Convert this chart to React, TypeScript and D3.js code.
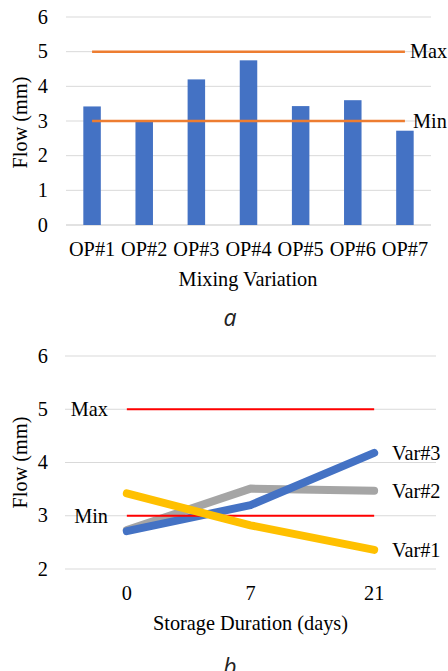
import React from "react"
import * as d3 from "d3"

// chart a: flow per mixing variation
const mixes = ["OP#1", "OP#2", "OP#3", "OP#4", "OP#5", "OP#6", "OP#7"]
const flowByMix = [3.42, 2.98, 4.2, 4.75, 3.43, 3.6, 2.72]
const limitsA = [
  { label: "Max", value: 5 },
  { label: "Min", value: 3 },
]
const ticksA = [0, 1, 2, 3, 4, 5, 6]

// chart b: flow over storage time
const days = ["0", "7", "21"]
const var1 = [3.42, 2.82, 2.36]
const var2 = [2.73, 3.51, 3.47]
const var3 = [2.71, 3.2, 4.18]
const ticksB = [2, 3, 4, 5, 6]

const serif = "'Liberation Serif', 'Times New Roman', serif"
const grid = "#D9D9D9"

const ChartA = () => {
  const x = d3.scaleBand().domain(mixes).range([66, 431])
  const y = d3.scaleLinear().domain([0, 6]).range([225, 17])
  const barW = 17.5
  const cx = (d: string) => (x(d) as number) + x.bandwidth() / 2

  return (
    <g fontFamily={serif} fontSize={20.3} fill="#000">
      {ticksA.map((t) => (
        <g key={t}>
          <line x1={66} x2={431} y1={y(t)} y2={y(t)} stroke={grid} strokeWidth={t === 0 ? 1.5 : 1} />
          <text x={48} y={y(t)} dy="0.33em" textAnchor="end">{t}</text>
        </g>
      ))}
      {mixes.map((m, i) => (
        <rect key={m} x={cx(m) - barW / 2} y={y(flowByMix[i])} width={barW} height={y(0) - y(flowByMix[i])} fill="#4472C4" />
      ))}
      {limitsA.map((l) => (
        <g key={l.label}>
          <line x1={cx(mixes[0])} x2={cx(mixes[mixes.length - 1])} y1={y(l.value)} y2={y(l.value)} stroke="#ED7D31" strokeWidth={2.5} />
          <text x={l.label === "Max" ? 410 : 413} y={y(l.value)} dy="0.33em">{l.label}</text>
        </g>
      ))}
      {mixes.map((m) => (
        <text key={m} x={cx(m)} y={256} textAnchor="middle">{m}</text>
      ))}
      <text x={248} y={286} textAnchor="middle">Mixing Variation</text>
      <text transform="translate(27,122.5) rotate(-90)" textAnchor="middle">Flow (mm)</text>
      <text x={230} y={326} textAnchor="middle" fontFamily="'Open Sans', sans-serif" fontStyle="italic" fontSize={23} fill="#222">a</text>
    </g>
  )
}

const ChartB = () => {
  const x = d3.scaleBand().domain(days).range([65, 436])
  const y = d3.scaleLinear().domain([2, 6]).range([569, 356])
  const cx = (d: string) => (x(d) as number) + x.bandwidth() / 2
  const line = d3
    .line<number>()
    .x((_, i) => cx(days[i]))
    .y((d) => y(d))

  const series = [
    { name: "Var#2", values: var2, color: "#A5A5A5" },
    { name: "Var#3", values: var3, color: "#4472C4" },
    { name: "Var#1", values: var1, color: "#FFC000" },
  ]
  const x0 = cx(days[0])
  const x1 = cx(days[days.length - 1])

  const drawSeries = (s: typeof series[number]) => (
    <path key={s.name} d={line(s.values) || ""} fill="none" stroke={s.color} strokeWidth={8} strokeLinecap="round" strokeLinejoin="round" />
  )

  return (
    <g fontFamily={serif} fontSize={20.3} fill="#000">
      {ticksB.map((t) => (
        <g key={t}>
          <line x1={65} x2={436} y1={y(t)} y2={y(t)} stroke={grid} strokeWidth={1.2} />
          <text x={48} y={y(t)} dy="0.33em" textAnchor="end">{t}</text>
        </g>
      ))}
      {series.slice(0, 2).map(drawSeries)}
      {[5, 3].map((v) => (
        <line key={v} x1={x0} x2={x1} y1={y(v)} y2={y(v)} stroke="#FF0000" strokeWidth={2} />
      ))}
      {series.slice(2).map(drawSeries)}
      <text x={108} y={y(5)} dy="0.33em" textAnchor="end">Max</text>
      <text x={108} y={y(3)} dy="0.37em" textAnchor="end">Min</text>
      {series.map((s) => (
        <text key={s.name} x={392} y={y(s.values[s.values.length - 1])} dy="0.35em">{s.name}</text>
      ))}
      {days.map((d) => (
        <text key={d} x={cx(d)} y={600} textAnchor="middle">{d}</text>
      ))}
      <text x={250.5} y={630} textAnchor="middle">Storage Duration (days)</text>
      <text transform="translate(27,462.5) rotate(-90)" textAnchor="middle">Flow (mm)</text>
      {/* caption sits partly below the picture edge, as in the source */}
      <text x={230} y={675} textAnchor="middle" fontFamily="'Open Sans', sans-serif" fontStyle="italic" fontSize={23} fill="#222">b</text>
    </g>
  )
}

export default function App() {
  return (
    <div style={{ position: "absolute", left: 0, top: 0 }}>
      <svg width={448} height={671} style={{ display: "block", background: "#fff" }}>
        <ChartA />
        <ChartB />
      </svg>
    </div>
  )
}
